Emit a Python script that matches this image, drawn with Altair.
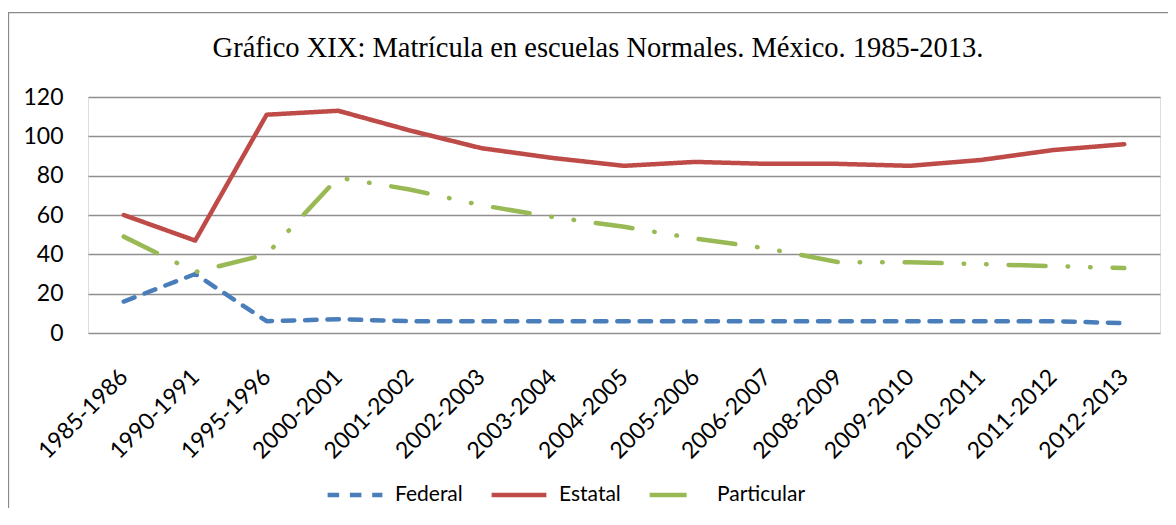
import altair as alt
import pandas as pd

titulo = "Gráfico XIX: Matrícula en escuelas Normales. México. 1985-2013."
periodos = ["1985-1986", "1990-1991", "1995-1996", "2000-2001", "2001-2002",
            "2002-2003", "2003-2004", "2004-2005", "2005-2006", "2006-2007",
            "2008-2009", "2009-2010", "2010-2011", "2011-2012", "2012-2013"]
federal = [16, 30, 6, 7, 6, 6, 6, 6, 6, 6, 6, 6, 6, 6, 5]
estatal = [60, 47, 111, 113, 103, 94, 89, 85, 87, 86, 86, 85, 88, 93, 96]
particular = [49, 31, 40, 79, 73, 65, 59, 54, 48, 43, 36, 36, 35, 34, 33]
series = ["Federal", "Estatal", "Particular"]
colores = ["#4A7EBB", "#BE4B48", "#98B954"]
y_ticks = [0, 20, 40, 60, 80, 100, 120]

rows = []
for nombre, vals in zip(series, [federal, estatal, particular]):
    for i, (p, v) in enumerate(zip(periodos, vals)):
        rows.append({"periodo": p, "serie": nombre, "valor": v, "orden": i})
df = pd.DataFrame(rows)

W, H = 1072, 236
AX_FONT = "Lato"

leg = dict(title=None, orient="none", direction="horizontal",
           legendX=237, legendY=368,
           symbolType="stroke", symbolSize=3000,
           symbolStrokeWidth=4.5, labelFont=AX_FONT,
           labelFontSize=21, labelColor="black",
           labelOffset=10, columnPadding=19)

lines = alt.Chart(df).mark_line(strokeWidth=4.5, strokeCap="round", strokeJoin="round").encode(
    x=alt.X("periodo:N", sort=periodos,
            scale=alt.Scale(type="point", padding=0.5),
            axis=alt.Axis(title=None, labelAngle=-45, labelAlign="right", labelBaseline="middle",
                          labelPadding=40, ticks=False, domain=False, grid=False,
                          labelFont=AX_FONT, labelFontSize=23, labelColor="black")),
    y=alt.Y("valor:Q", scale=alt.Scale(domain=[0, 120], nice=False),
            axis=alt.Axis(title=None, values=y_ticks, ticks=False, domain=False,
                          grid=True, gridColor="#8f8f8f", gridWidth=1.5,
                          labelPadding=25, labelFont=AX_FONT, labelFontSize=23,
                          labelColor="black")),
    color=alt.Color("serie:N", sort=series,
                    scale=alt.Scale(domain=series, range=colores),
                    legend=alt.Legend(**leg)),
    strokeDash=alt.StrokeDash("serie:N", sort=series,
                              scale=alt.Scale(domain=series,
                                              range=[[11.5, 10.8], [1, 0],
                                                     [37, 22, 0.5, 22, 0.5, 22]]),
                              legend=alt.Legend(**leg)),
    order="orden:Q",
)

frame = alt.Chart(alt.Data(values=[{"a": 1}])).mark_rect(
    fill=None, stroke="#8a8a8a", strokeWidth=1.3
).encode(
    x=alt.value(-79.5), x2=alt.value(1200), y=alt.value(-84.3), y2=alt.value(700)
)

title_mark = alt.Chart(alt.Data(values=[{"t": titulo}])).mark_text(
    font="Liberation Serif", fontSize=28.5, align="center", baseline="alphabetic",
    color="black"
).encode(x=alt.value(510), y=alt.value(-40), text="t:N")

chart = alt.layer(frame, title_mark, lines).properties(
    width=W, height=H,
    autosize=alt.AutoSizeParams(type="none"),
    padding={"left": 80, "top": 89, "right": 8, "bottom": 175},
).configure_view(stroke=None).configure(background="white")

chart.save("out.html", embed_options={"renderer": "svg", "actions": False})
